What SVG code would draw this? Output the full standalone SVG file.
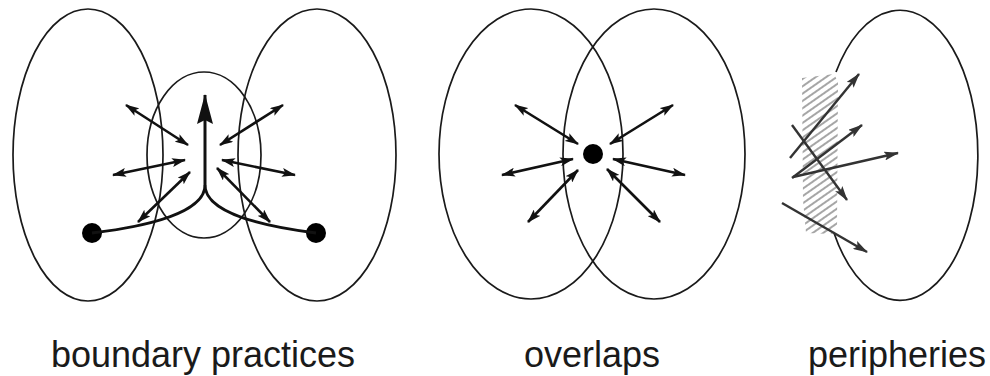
<svg xmlns="http://www.w3.org/2000/svg" width="990" height="376" viewBox="0 0 990 376">
<style>
.ell{fill:none;stroke:#1a1a1a;stroke-width:1.7}
.arr{fill:none;stroke:#111;stroke-width:2.6;marker-start:url(#ah);marker-end:url(#ah)}
.sarr{fill:none;stroke:#333;stroke-width:2.4;marker-end:url(#ahg)}
.dot{fill:#000}
.lbl{font-family:"Liberation Sans",Arial,sans-serif;font-size:36px;fill:#1a1a1a;text-anchor:middle}
</style>
<defs>
<marker id="ah" viewBox="0 0 14 9" refX="13" refY="4.5" markerWidth="14" markerHeight="9" markerUnits="userSpaceOnUse" orient="auto-start-reverse">
<path d="M0,0 L14,4.5 L0,9 L3,4.5 Z" fill="#111"/>
</marker>
<marker id="ahg" viewBox="0 0 15 9" refX="14" refY="4.5" markerWidth="15" markerHeight="9" markerUnits="userSpaceOnUse" orient="auto">
<path d="M0,0 L15,4.5 L0,9 L3,4.5 Z" fill="#333"/>
</marker>
<marker id="big" viewBox="0 0 30 18" refX="29" refY="9" markerWidth="30" markerHeight="18" markerUnits="userSpaceOnUse" orient="auto">
<path d="M0,1 L30,9 L0,17 L4,9 Z" fill="#111"/>
</marker>
<pattern id="hatch" width="6" height="6" patternUnits="userSpaceOnUse" patternTransform="rotate(-35)">
<line x1="0" y1="3" x2="6" y2="3" stroke="#888" stroke-width="1.5"/>
</pattern>
</defs>

<g id="boundary-practices">
<ellipse class="ell" cx="88" cy="155" rx="75" ry="146"/>
<ellipse class="ell" cx="317" cy="155" rx="79" ry="146"/>
<ellipse class="ell" cx="204" cy="155" rx="57" ry="83"/>
<circle class="dot" cx="92" cy="233" r="10"/>
<circle class="dot" cx="316" cy="233" r="10"/>
<text class="lbl" x="203" y="367">boundary practices</text>
</g>

<g id="overlaps">
<ellipse class="ell" cx="531" cy="154" rx="92" ry="145"/>
<ellipse class="ell" cx="654" cy="154" rx="91" ry="145"/>
<circle class="dot" cx="593" cy="154" r="10"/>
<text class="lbl" x="592" y="367">overlaps</text>
</g>

<g id="peripheries">
<path d="M802,78 L834,74 L838,82 L837,228 L832,234 L806,233 L803,200 Z" fill="url(#hatch)"/>
<path class="ell" d="M836,72 A78,145 0 1 1 834,233"/>
<text class="lbl" x="897" y="367">peripheries</text>
</g>

<g id="connectors">
<path d="M205,185 L205,95" fill="none" stroke="#111" stroke-width="3" marker-end="url(#big)"/>
<path d="M205,185 C205,212 150,226 92,233" fill="none" stroke="#111" stroke-width="2.8"/>
<path d="M205,185 C205,212 260,226 316,233" fill="none" stroke="#111" stroke-width="2.8"/>
<path class="arr" d="M126,105 L188,145"/>
<path class="arr" d="M113,175 L185,160"/>
<path class="arr" d="M138,222 L190,172"/>
<path class="arr" d="M283,105 L220,145"/>
<path class="arr" d="M295,175 L222,160"/>
<path class="arr" d="M270,222 L217,168"/>

<path class="arr" d="M515,105 L578,144"/>
<path class="arr" d="M502,175 L573,159"/>
<path class="arr" d="M528,222 L578,170"/>
<path class="arr" d="M673,105 L610,144"/>
<path class="arr" d="M685,175 L613,159"/>
<path class="arr" d="M660,222 L607,169"/>

<path class="sarr" d="M790,158 L859,74"/>
<path class="sarr" d="M792,178 L862,125"/>
<path class="sarr" d="M793,177 L898,153"/>
<path class="sarr" d="M792,125 L847,200"/>
<path class="sarr" d="M782,203 L867,252"/>
</g>
</svg>
